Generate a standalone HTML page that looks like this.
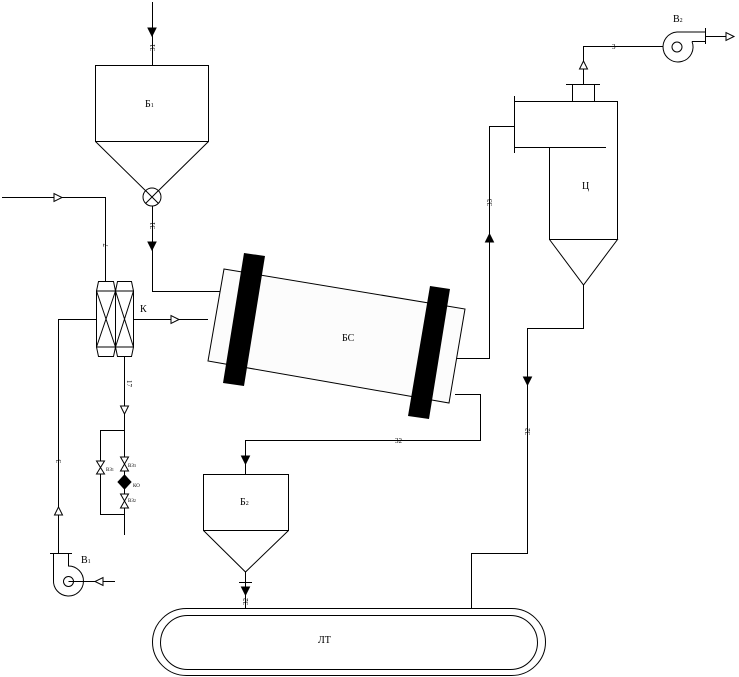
<!DOCTYPE html><html><head><meta charset="utf-8"><style>body{margin:0;background:#fff}svg{display:block}text{font-family:"Liberation Serif",serif;fill:#000}</style></head><body>
<svg width="739" height="677" viewBox="0 0 739 677" xmlns="http://www.w3.org/2000/svg">
<g fill="none" stroke="#000" stroke-width="1">
<rect x="95.5" y="65.5" width="113" height="76"/>
<path d="M95.5 141.5 L152 197 L208.5 141.5"/>
<circle cx="152" cy="197" r="9" fill="#fff"/>
<path d="M145.5 190.5 L158.5 203.5 M158.5 190.5 L145.5 203.5"/>
<path d="M152.5 2 V65"/>
<path d="M152.5 206 V291.5 H220"/>
<path d="M2 197.5 H105.5 V281"/>
<path d="M96.5 291 L98.5 281.5 H113.5 L115.5 291 M115.5 291 L117.5 281.5 H131.5 L133.5 291"/>
<path d="M96.5 347 L98.5 356.5 H113.5 L115.5 347 M115.5 347 L117.5 356.5 H131.5 L133.5 347"/>
<rect x="96.5" y="291" width="37" height="56"/>
<path d="M115.5 291 V347 M96.5 291 L115.5 347 M115.5 291 L96.5 347 M115.5 291 L133.5 347 M133.5 291 L115.5 347"/>
<path d="M133.5 319.5 H208"/>
<path d="M96.5 319.5 H58.5 V553"/>
<path d="M124.5 356 V535"/>
<path d="M124.5 430.5 H100.5 V514.5 H124.5"/>
<path d="M53.5 553 V580 A15 15 0 1 0 68.5 566 V553"/>
<path d="M50 553.5 H72"/>
<circle cx="68.5" cy="581.5" r="5"/>
<path d="M68.5 581.5 H115"/>
<polygon points="224,269 465,309 449,403 208,361" fill="#fcfcfc"/>
<path d="M457 358.5 H489.5 V126.5 H514"/>
<path d="M455 394.5 H480.5 V440.5 H245.5 V474"/>
<rect x="203.5" y="474.5" width="85" height="56"/>
<path d="M203.5 530.5 L245.5 572 L288.5 530.5"/>
<path d="M245.5 572 V608 M239 582.5 H252"/>
<path d="M514.5 96 V153 M514.5 101.5 H617.5 V239.5 M514.5 147.5 H606 M549.5 147.5 V239.5 H617.5 L583.5 285 L549.5 239.5"/>
<path d="M572.5 101 V84.5 H594.5 V101 M566 84.5 H600"/>
<path d="M583.5 84 V46.5 H663"/>
<path d="M583.5 285 V328.5 H527.5 V553.5 H471.5 V608"/>
<path d="M692 41.5 A15 15 0 1 1 677 32 H705.5 M692 41.5 H705.5"/>
<path d="M705.5 28 V44 M705.5 36.5 H733"/>
<circle cx="677" cy="47" r="5"/>
<rect x="152.5" y="608.5" width="393" height="67" rx="34"/>
<rect x="160.5" y="615.5" width="377" height="54" rx="27"/>
</g>
<polygon points="244,253 265,256 244,386 223,383" fill="#000"/>
<polygon points="430,286 450,289 429,419 408,416" fill="#000"/>
<g stroke="#000" stroke-width="1">
<polygon points="148,28 156,28 152,36" fill="#000"/>
<polygon points="148,242 156,242 152,250" fill="#000"/>
<polygon points="54,193.5 54,201.5 62,197.5" fill="#fff"/>
<polygon points="171,315.5 171,323.5 179,319.5" fill="#fff"/>
<polygon points="54.5,515 62.5,515 58.5,507" fill="#fff"/>
<polygon points="120.5,406 128.5,406 124.5,414" fill="#fff"/>
<polygon points="103,577.5 103,585.5 95,581.5" fill="#fff"/>
<polygon points="485.5,242 493.5,242 489.5,234" fill="#000"/>
<polygon points="241.5,456 249.5,456 245.5,464" fill="#000"/>
<polygon points="241.5,587 249.5,587 245.5,595" fill="#000"/>
<polygon points="523.5,377 531.5,377 527.5,385" fill="#000"/>
<polygon points="579.5,69 587.5,69 583.5,61" fill="#fff"/>
<polygon points="726,32.5 726,40.5 734,36.5" fill="#fff"/>
<polygon points="96.5,461 104.5,461 96.5,474 104.5,474" fill="#fff"/>
<polygon points="120.5,457 128.5,457 120.5,471 128.5,471" fill="#fff"/>
<polygon points="120.5,494 128.5,494 120.5,508 128.5,508" fill="#fff"/>
<polygon points="124.5,475 131,482 124.5,489 118,482" fill="#000"/>
</g>
<g font-size="10">
<text x="145" y="107">Б<tspan font-size="6">1</tspan></text>
<text x="240" y="505">Б<tspan font-size="6">2</tspan></text>
<text x="140" y="312">К</text>
<text x="342" y="341">БС</text>
<text x="582" y="189">Ц</text>
<text x="318" y="643">ЛТ</text>
<text x="81" y="563">В<tspan font-size="6">1</tspan></text>
<text x="673" y="22">В<tspan font-size="6">2</tspan></text>
</g>
<g font-size="7" fill="#000">
<text x="395" y="443">32</text>
<text x="612" y="49">3</text>
<text x="106" y="471" font-size="5">ВЗ<tspan font-size="4">1</tspan></text>
<text x="128" y="467" font-size="5">ВЗ<tspan font-size="4">3</tspan></text>
<text x="133" y="487" font-size="5">КО</text>
<text x="128" y="502" font-size="5">ВЗ<tspan font-size="4">2</tspan></text>
<text transform="translate(155,51) rotate(-90)">31</text>
<text transform="translate(155,229) rotate(-90)">31</text>
<text transform="translate(108,247) rotate(-90)">7</text>
<text transform="translate(127,380) rotate(90)">17</text>
<text transform="translate(61,463) rotate(-90)">3</text>
<text transform="translate(492,206) rotate(-90)">33</text>
<text transform="translate(530,435) rotate(-90)">32</text>
<text transform="translate(248,605) rotate(-90)">32</text>
</g>
</svg>
</body></html>
